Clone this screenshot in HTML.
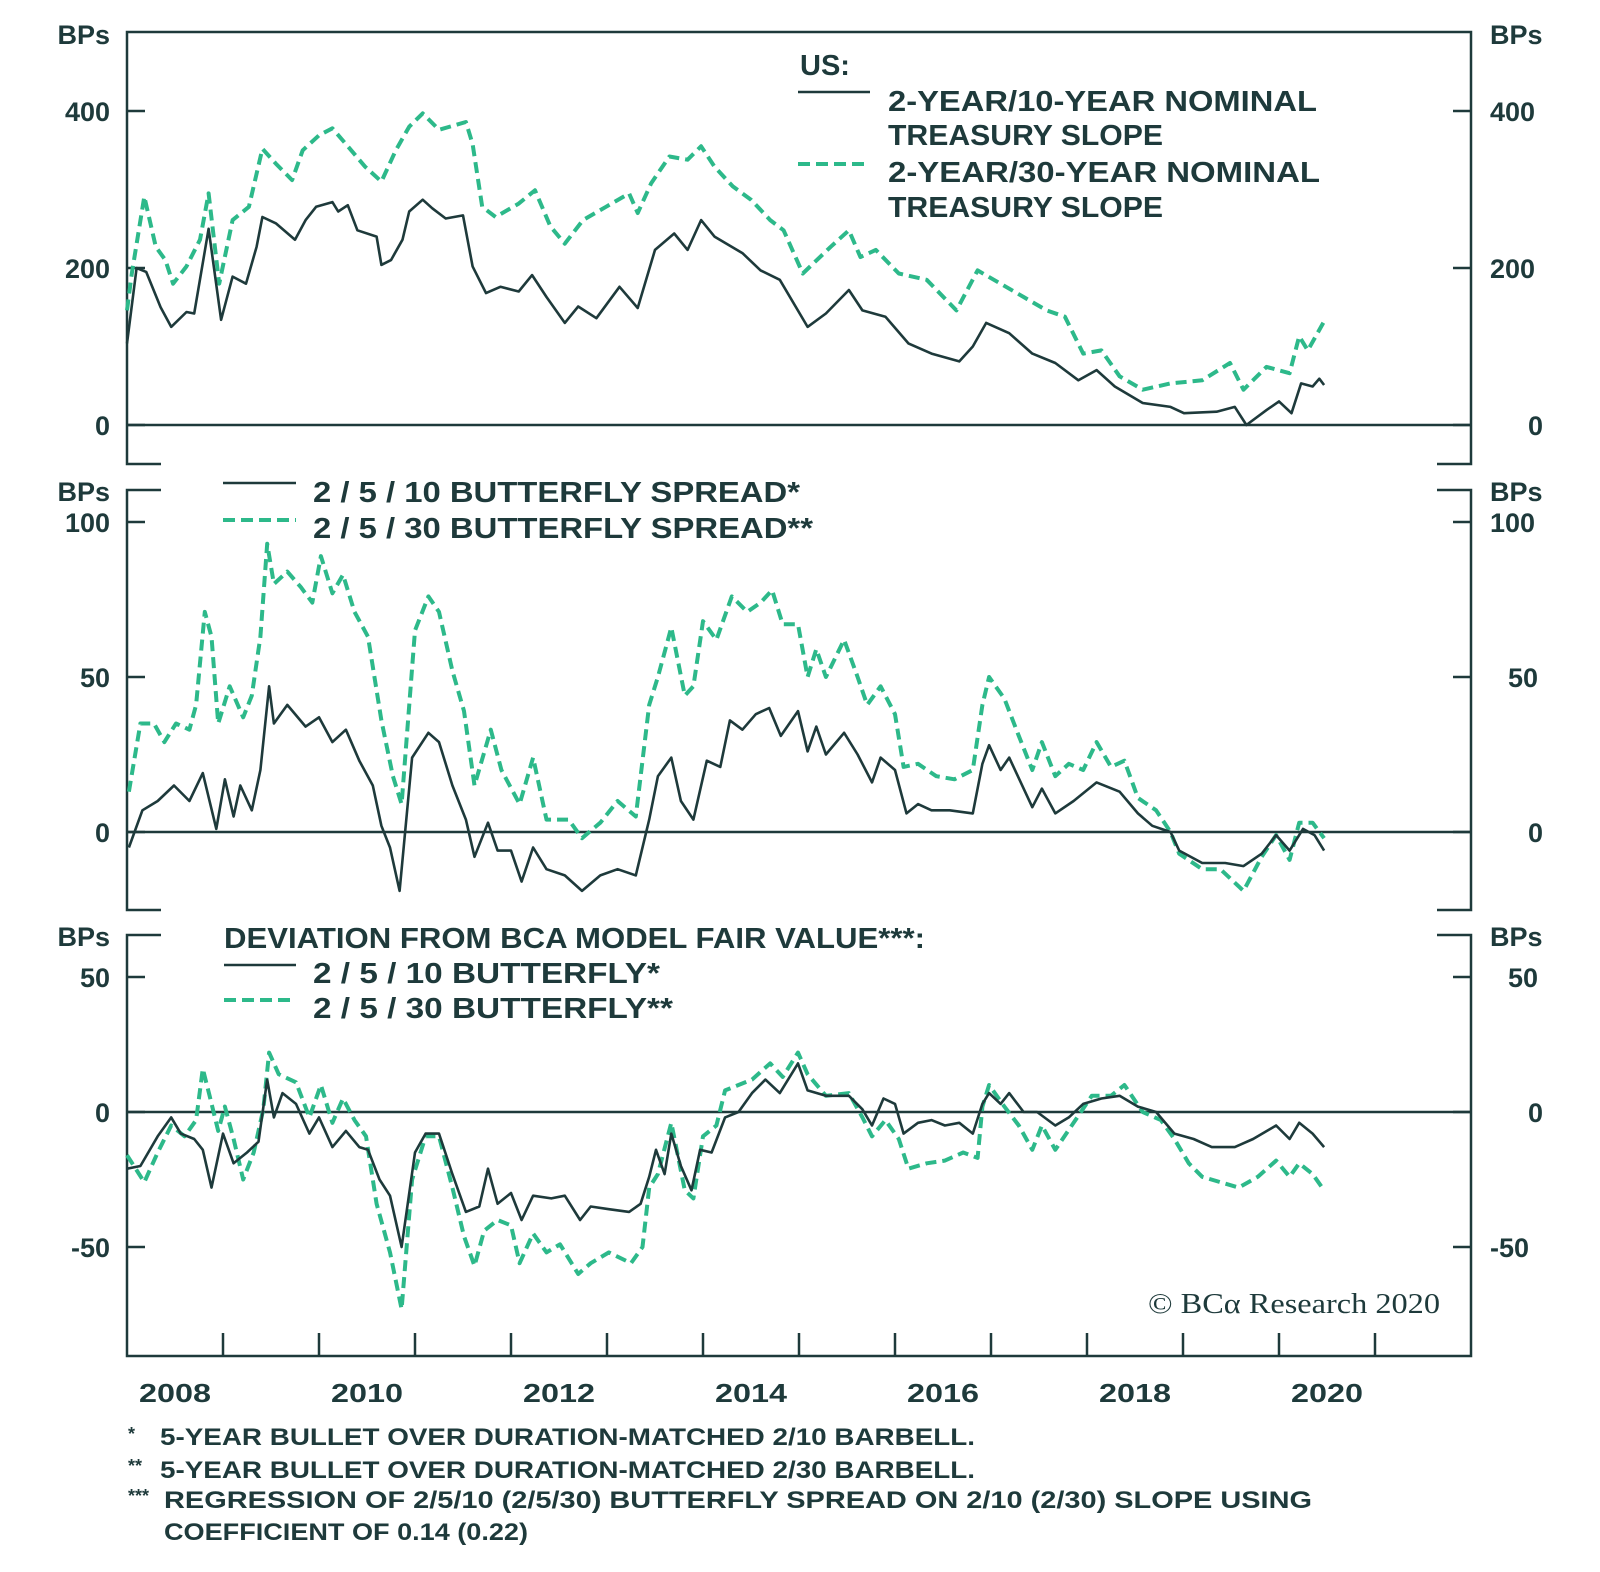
<!DOCTYPE html>
<html><head><meta charset="utf-8">
<style>
html,body{margin:0;padding:0;background:#fff;}
svg{display:block;}
text{font-family:"Liberation Sans",sans-serif;font-weight:bold;fill:#1e3a3b;}
</style></head>
<body>
<svg id="chart" width="1600" height="1572" viewBox="0 0 1600 1572" xmlns="http://www.w3.org/2000/svg">
<rect width="1600" height="1572" fill="#fff"/>
<g id="frames" stroke="#1e3a3b" stroke-width="2.5" fill="none">
  <path d="M161,464 H127 V32 H1471 V464 H1437"/>
  <path d="M161,490 H127 V910 H161 M1437,490 H1471 V910 H1437"/>
  <path d="M161,935 H127 V1356 H1471 V935 H1437"/>
</g>
<g id="ticks" stroke="#1e3a3b" stroke-width="2.5"></g>
<g id="marks"></g>

<g font-size="27">
  <text x="110" y="44" text-anchor="end">BPs</text>
  <text x="1490" y="44">BPs</text>
</g>
<g font-size="27">
  <text x="110" y="501" text-anchor="end">BPs</text>
  <text x="1490" y="501">BPs</text>
</g>
<g font-size="27">
  <text x="110" y="946" text-anchor="end">BPs</text>
  <text x="1490" y="946">BPs</text>
</g>
<g id="ylabels" font-size="27"></g>
<g id="xlabels" font-size="26"></g>

<g font-size="29">
  <text x="800" y="75">US:</text>
  <line x1="798" y1="92" x2="870" y2="92" stroke="#1e3a3b" stroke-width="2.5"/>
  <text x="888" y="111" textLength="429" lengthAdjust="spacingAndGlyphs">2-YEAR/10-YEAR NOMINAL</text>
  <text x="888" y="145" textLength="275" lengthAdjust="spacingAndGlyphs">TREASURY SLOPE</text>
  <line x1="798" y1="164" x2="870" y2="164" stroke="#2db98a" stroke-width="4" stroke-dasharray="12 6"/>
  <text x="888" y="182" textLength="432" lengthAdjust="spacingAndGlyphs">2-YEAR/30-YEAR NOMINAL</text>
  <text x="888" y="217" textLength="275" lengthAdjust="spacingAndGlyphs">TREASURY SLOPE</text>
</g>
<g font-size="29">
  <line x1="223" y1="483" x2="296" y2="483" stroke="#1e3a3b" stroke-width="2.5"/>
  <text x="313" y="502" textLength="487" lengthAdjust="spacingAndGlyphs">2 / 5 / 10 BUTTERFLY SPREAD*</text>
  <line x1="223" y1="520" x2="296" y2="520" stroke="#2db98a" stroke-width="4" stroke-dasharray="12 6"/>
  <text x="313" y="538" textLength="500" lengthAdjust="spacingAndGlyphs">2 / 5 / 30 BUTTERFLY SPREAD**</text>
</g>
<g font-size="29">
  <text x="224" y="948" textLength="701" lengthAdjust="spacingAndGlyphs">DEVIATION FROM BCA MODEL FAIR VALUE***:</text>
  <line x1="224" y1="965" x2="296" y2="965" stroke="#1e3a3b" stroke-width="2.5"/>
  <text x="313" y="983" textLength="347" lengthAdjust="spacingAndGlyphs">2 / 5 / 10 BUTTERFLY*</text>
  <line x1="224" y1="1000" x2="296" y2="1000" stroke="#2db98a" stroke-width="4" stroke-dasharray="12 6"/>
  <text x="313" y="1018" textLength="360" lengthAdjust="spacingAndGlyphs">2 / 5 / 30 BUTTERFLY**</text>
</g>

<text x="1148" y="1313" font-size="28" textLength="292" lengthAdjust="spacingAndGlyphs" style="font-family:'Liberation Serif',serif;font-weight:normal">© BCα Research 2020</text>

<g font-size="24">
  <text x="128" y="1440" font-size="18">*</text>
  <text x="160" y="1445" textLength="815" lengthAdjust="spacingAndGlyphs">5-YEAR BULLET OVER DURATION-MATCHED 2/10 BARBELL.</text>
  <text x="128" y="1472" font-size="18">**</text>
  <text x="160" y="1478" textLength="815" lengthAdjust="spacingAndGlyphs">5-YEAR BULLET OVER DURATION-MATCHED 2/30 BARBELL.</text>
  <text x="128" y="1502" font-size="18">***</text>
  <text x="164" y="1508" textLength="1148" lengthAdjust="spacingAndGlyphs">REGRESSION OF 2/5/10 (2/5/30) BUTTERFLY SPREAD ON 2/10 (2/30) SLOPE USING</text>
  <text x="164" y="1540" textLength="364" lengthAdjust="spacingAndGlyphs">COEFFICIENT OF 0.14 (0.22)</text>
</g>
</svg>
<script>
// ---- data ----
const xYears = [2008, 2010, 2012, 2014, 2016, 2018, 2020];
const p1Ticks = [0, 200, 400];
const p2Ticks = [0, 50, 100];
const p3Ticks = [-50, 0, 50];

const p1BlackDates = [2008.0,2008.1,2008.2,2008.35,2008.46,2008.62,2008.7,2008.85,2008.98,2009.1,2009.24,2009.35,2009.41,2009.55,2009.75,2009.86,2009.97,2010.14,2010.2,2010.3,2010.4,2010.6,2010.65,2010.75,2010.87,2010.94,2011.08,2011.18,2011.32,2011.5,2011.6,2011.74,2011.89,2012.08,2012.22,2012.37,2012.56,2012.7,2012.89,2013.13,2013.32,2013.5,2013.7,2013.84,2013.98,2014.12,2014.41,2014.6,2014.8,2015.09,2015.28,2015.52,2015.66,2015.9,2016.14,2016.38,2016.67,2016.81,2016.95,2017.19,2017.43,2017.67,2017.91,2018.1,2018.29,2018.58,2018.87,2019.01,2019.35,2019.54,2019.66,2019.87,2020.0,2020.13,2020.23,2020.35,2020.42,2020.47];
const p1BlackVals = [104,200,195,150,125,144,142,250,134,189,180,227,265,257,236,261,278,284,272,280,248,240,204,210,236,272,287,276,263,267,202,168,176,170,191,163,130,151,136,176,149,223,244,223,261,240,219,197,185,125,142,172,146,138,104,91,81,100,130,117,91,79,57,70,49,28,23,15,17,23,0,19,30,15,53,49,59,51];
const p1GreenDates = [2008.0,2008.05,2008.18,2008.3,2008.4,2008.48,2008.62,2008.76,2008.85,2008.96,2009.1,2009.27,2009.41,2009.55,2009.72,2009.83,2010.0,2010.14,2010.3,2010.48,2010.65,2010.8,2010.94,2011.08,2011.25,2011.53,2011.6,2011.7,2011.84,2012.08,2012.25,2012.41,2012.56,2012.75,2012.99,2013.23,2013.32,2013.46,2013.65,2013.84,2013.98,2014.12,2014.31,2014.5,2014.7,2014.84,2015.04,2015.33,2015.52,2015.64,2015.8,2016.04,2016.33,2016.64,2016.86,2017.1,2017.34,2017.58,2017.77,2017.96,2018.15,2018.34,2018.58,2018.87,2019.2,2019.49,2019.63,2019.87,2020.11,2020.21,2020.3,2020.47];
const p1GreenVals = [146,193,291,227,210,180,202,236,295,180,261,278,352,333,312,350,369,378,355,329,310,350,380,397,376,386,358,278,265,282,299,253,231,261,278,295,270,308,342,338,355,329,304,287,261,248,193,227,248,214,223,193,185,146,197,180,163,146,138,91,95,62,45,53,57,79,45,74,66,113,95,132];

const p2BlackDates = [2008.02,2008.16,2008.32,2008.49,2008.65,2008.79,2008.93,2009.02,2009.11,2009.18,2009.3,2009.39,2009.48,2009.53,2009.67,2009.86,2010.0,2010.14,2010.28,2010.42,2010.56,2010.65,2010.74,2010.84,2010.97,2011.14,2011.25,2011.39,2011.53,2011.62,2011.76,2011.86,2012.0,2012.11,2012.23,2012.37,2012.56,2012.74,2012.93,2013.11,2013.3,2013.44,2013.53,2013.67,2013.77,2013.9,2014.04,2014.18,2014.28,2014.41,2014.55,2014.69,2014.81,2014.99,2015.09,2015.18,2015.28,2015.47,2015.61,2015.76,2015.85,2016.0,2016.12,2016.24,2016.38,2016.57,2016.81,2016.91,2016.98,2017.1,2017.19,2017.43,2017.53,2017.67,2017.86,2018.1,2018.34,2018.53,2018.68,2018.87,2018.96,2019.2,2019.44,2019.63,2019.82,2019.97,2020.11,2020.25,2020.37,2020.47];
const p2BlackVals = [-5,7,10,15,10,19,1,17,5,15,7,20,47,35,41,34,37,29,33,23,15,2,-5,-19,24,32,29,15,4,-8,3,-6,-6,-16,-5,-12,-14,-19,-14,-12,-14,4,18,24,10,4,23,21,36,33,38,40,31,39,26,34,25,32,25,16,24,20,6,9,7,7,6,22,28,20,24,8,14,6,10,16,13,6,2,0,-6,-10,-10,-11,-7,-1,-6,1,-1,-6];
const p2GreenDates = [2008.02,2008.14,2008.28,2008.39,2008.51,2008.65,2008.72,2008.81,2008.88,2008.95,2009.07,2009.21,2009.3,2009.39,2009.46,2009.53,2009.67,2009.81,2009.93,2010.02,2010.14,2010.25,2010.37,2010.51,2010.65,2010.77,2010.86,2011.0,2011.14,2011.25,2011.39,2011.51,2011.62,2011.79,2011.9,2012.09,2012.23,2012.37,2012.6,2012.74,2012.93,2013.11,2013.3,2013.44,2013.53,2013.67,2013.81,2013.9,2014.0,2014.14,2014.3,2014.46,2014.6,2014.72,2014.83,2014.99,2015.09,2015.18,2015.28,2015.47,2015.61,2015.71,2015.85,2016.0,2016.09,2016.24,2016.43,2016.62,2016.81,2016.91,2016.98,2017.14,2017.29,2017.43,2017.53,2017.67,2017.81,2017.96,2018.1,2018.25,2018.39,2018.53,2018.72,2018.87,2018.96,2019.2,2019.39,2019.63,2019.82,2019.97,2020.11,2020.21,2020.35,2020.47];
const p2GreenVals = [13,35,35,29,35,33,41,71,63,35,47,37,44,63,93,80,84,79,74,89,77,83,71,63,36,18,9,65,76,71,52,39,15,33,20,9,24,4,4,-2,3,10,5,41,50,66,44,47,68,62,76,71,74,78,67,67,50,59,50,62,50,41,47,38,21,22,18,17,20,41,50,43,31,20,29,18,22,20,29,21,23,11,7,0,-7,-12,-12,-19,-8,-1,-9,3,3,-2];

const p3BlackDates = [2008.0,2008.14,2008.32,2008.46,2008.56,2008.7,2008.79,2008.88,2009.0,2009.11,2009.25,2009.37,2009.46,2009.53,2009.62,2009.76,2009.9,2010.0,2010.14,2010.28,2010.42,2010.51,2010.63,2010.74,2010.86,2011.0,2011.11,2011.25,2011.39,2011.53,2011.67,2011.76,2011.86,2012.0,2012.11,2012.23,2012.42,2012.56,2012.72,2012.83,2013.02,2013.23,2013.35,2013.44,2013.51,2013.6,2013.67,2013.77,2013.88,2013.97,2014.09,2014.23,2014.37,2014.51,2014.65,2014.8,2014.99,2015.09,2015.28,2015.52,2015.66,2015.76,2015.88,2016.0,2016.09,2016.24,2016.38,2016.52,2016.67,2016.81,2016.91,2016.98,2017.1,2017.19,2017.34,2017.48,2017.67,2017.81,2017.96,2018.15,2018.34,2018.53,2018.72,2018.91,2019.11,2019.3,2019.54,2019.73,2019.97,2020.11,2020.21,2020.35,2020.47];
const p3BlackVals = [-21,-20,-9,-2,-8,-10,-14,-28,-8,-19,-15,-11,12,-2,7,3,-8,-2,-13,-7,-13,-14,-25,-31,-50,-15,-8,-8,-23,-37,-35,-21,-34,-30,-40,-31,-32,-31,-40,-35,-36,-37,-34,-24,-14,-23,-8,-20,-29,-14,-15,-2,0,7,12,7,18,8,6,6,1,-5,5,3,-8,-4,-3,-5,-4,-8,3,7,3,7,0,0,-5,-2,3,5,6,2,0,-8,-10,-13,-13,-10,-5,-10,-4,-8,-13];
const p3GreenDates = [2008.0,2008.18,2008.32,2008.46,2008.6,2008.72,2008.79,2008.86,2008.95,2009.02,2009.11,2009.21,2009.32,2009.42,2009.48,2009.58,2009.76,2009.9,2010.02,2010.14,2010.25,2010.37,2010.49,2010.6,2010.74,2010.86,2010.97,2011.11,2011.25,2011.39,2011.51,2011.62,2011.72,2011.86,2012.0,2012.09,2012.23,2012.37,2012.51,2012.7,2012.83,2013.02,2013.25,2013.37,2013.44,2013.53,2013.67,2013.81,2013.9,2014.0,2014.14,2014.23,2014.37,2014.51,2014.7,2014.83,2014.99,2015.09,2015.28,2015.52,2015.66,2015.76,2015.9,2016.04,2016.14,2016.33,2016.52,2016.71,2016.86,2016.91,2016.98,2017.14,2017.29,2017.43,2017.53,2017.67,2017.86,2018.05,2018.25,2018.39,2018.58,2018.77,2018.91,2019.06,2019.2,2019.39,2019.58,2019.78,2019.97,2020.11,2020.21,2020.35,2020.47];
const p3GreenVals = [-16,-26,-15,-5,-9,-3,16,6,-7,2,-10,-25,-15,1,22,14,11,-2,10,-4,5,-3,-9,-34,-52,-73,-25,-9,-9,-28,-46,-57,-44,-40,-42,-56,-45,-52,-49,-60,-56,-52,-56,-50,-28,-23,-4,-29,-32,-9,-5,8,10,12,18,13,22,14,6,7,-2,-9,-3,-10,-21,-19,-18,-15,-17,2,10,2,-5,-14,-5,-14,-4,6,6,10,0,-3,-10,-19,-24,-26,-28,-24,-18,-24,-19,-23,-29];

// ---- scales ----
const X0 = 127, PXYR = 96;
function xs(t){ return X0 + (t - 2008) * PXYR; }
function y1(v){ return 425 - v * 0.785; }
function y2(v){ return 832 - v * 3.1; }
function y3(v){ return 1112 - v * 2.7; }

const NS = 'http://www.w3.org/2000/svg';
const marks = document.getElementById('marks');
const ticks = document.getElementById('ticks');
const ylabels = document.getElementById('ylabels');
const xlabels = document.getElementById('xlabels');

function pathFor(dates, vals, ys){
  let d = '';
  for (let i = 0; i < dates.length; i++){
    d += (i ? 'L' : 'M') + xs(dates[i]).toFixed(1) + ',' + ys(vals[i]).toFixed(1);
  }
  return d;
}

function zeroLine(ys, name){
  const l = document.createElementNS(NS, 'line');
  l.setAttribute('x1', 127); l.setAttribute('x2', 1471);
  l.setAttribute('y1', ys(0)); l.setAttribute('y2', ys(0));
  l.setAttribute('stroke', '#1e3a3b'); l.setAttribute('stroke-width', '2.5');
  
  
  marks.appendChild(l);
}
zeroLine(y1, 'panel1-zero-line');
zeroLine(y2, 'panel2-zero-line');
zeroLine(y3, 'panel3-zero-line');

function series(dates, vals, ys, green, name){
  const p = document.createElementNS(NS, 'path');
  p.setAttribute('d', pathFor(dates, vals, ys));
  p.setAttribute('fill', 'none');
  p.setAttribute('stroke-linejoin', 'round');
  if (green){
    p.setAttribute('stroke', '#2db98a');
    p.setAttribute('stroke-width', '4');
    p.setAttribute('stroke-dasharray', '11 6');
  } else {
    p.setAttribute('stroke', '#1e3a3b');
    p.setAttribute('stroke-width', '2.6');
  }
  
  
  marks.appendChild(p);
}
series(p1GreenDates, p1GreenVals, y1, true, 'line-2-30-slope');
series(p1BlackDates, p1BlackVals, y1, false, 'line-2-10-slope');
series(p2GreenDates, p2GreenVals, y2, true, 'line-2-5-30-spread');
series(p2BlackDates, p2BlackVals, y2, false, 'line-2-5-10-spread');
series(p3GreenDates, p3GreenVals, y3, true, 'line-2-5-30-deviation');
series(p3BlackDates, p3BlackVals, y3, false, 'line-2-5-10-deviation');

function yAxis(tickVals, ys, panel){
  tickVals.forEach(v => {
    const y = ys(v);
    const t1 = document.createElementNS(NS, 'line');
    t1.setAttribute('x1', 127); t1.setAttribute('x2', 145); t1.setAttribute('y1', y); t1.setAttribute('y2', y);
    
    
    ticks.appendChild(t1);
    const t2 = document.createElementNS(NS, 'line');
    t2.setAttribute('x1', 1453); t2.setAttribute('x2', 1471); t2.setAttribute('y1', y); t2.setAttribute('y2', y);
    
    
    ticks.appendChild(t2);
    const a = document.createElementNS(NS, 'text');
    a.setAttribute('x', 110); a.setAttribute('y', y + 10); a.setAttribute('text-anchor', 'end');
    a.textContent = String(v);
    
    
    ylabels.appendChild(a);
    const b = document.createElementNS(NS, 'text');
    b.setAttribute('x', v < 0 ? 1490 : (String(v).length === 1 ? 1528 : (String(v).length === 2 ? 1508 : 1490))); b.setAttribute('y', y + 10);
    b.textContent = String(v);
    
    
    ylabels.appendChild(b);
  });
}
yAxis(p1Ticks, y1, 'panel1');
yAxis(p2Ticks, y2, 'panel2');
yAxis(p3Ticks, y3, 'panel3');

for (let yr = 2009; yr <= 2021; yr++){
  const t = document.createElementNS(NS, 'line');
  t.setAttribute('x1', xs(yr)); t.setAttribute('x2', xs(yr));
  t.setAttribute('y1', 1333); t.setAttribute('y2', 1356);
  
  
  ticks.appendChild(t);
}
xYears.forEach(yr => {
  const t = document.createElementNS(NS, 'text');
  t.setAttribute('x', xs(yr + 0.5)); t.setAttribute('y', 1402);
  t.setAttribute('text-anchor', 'middle');
  t.setAttribute('textLength', '72');
  t.setAttribute('lengthAdjust', 'spacingAndGlyphs');
  t.textContent = String(yr);
  
  
  xlabels.appendChild(t);
});
</script>
</body></html>
